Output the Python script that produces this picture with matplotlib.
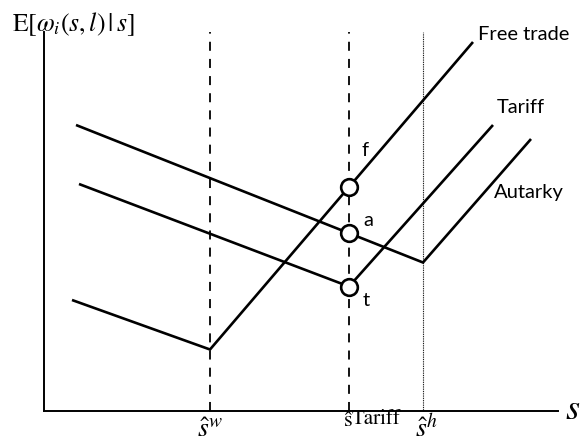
import numpy as np
import matplotlib
matplotlib.use("Agg")
import matplotlib.pyplot as plt

plt.rcParams["mathtext.fontset"] = "stix"

# Thresholds on the s axis
s_w = 166.0
s_tariff = 305.0
s_h = 379.0

# Expected wage schedules: (s, value) kink points
free_s = [28, s_w, 429]
free_v = [111, 61.5, 369]
tariff_s = [35, s_tariff, 449]
tariff_v = [227, 124.5, 286]
autarky_s = [32, s_h, 487]
autarky_v = [286, 148.5, 272]

series_names = ["Free trade", "Tariff", "Autarky"]
point_names = ["f", "a", "t"]

fig = plt.figure(figsize=(5.81, 4.43), dpi=100)
ax = fig.add_axes([0, 0, 1, 1])
ax.set_xlim(-44, 537)
ax.set_ylim(-32, 411)
ax.axis("off")

line_kw = dict(color="black", lw=1.9, solid_capstyle="butt", solid_joinstyle="miter")

# Axes
ax.plot([0, 0], [0, 379], color="black", lw=1.4)
ax.plot([0, 514], [0, 0], color="black", lw=1.4)

# Threshold markers
for sv in (s_w, s_tariff):
    ax.plot([sv, sv], [0, 379], color="black", lw=1.3, dashes=(5, 4.5))
ax.plot([s_h, s_h], [0, 379], color="black", lw=0.8, dashes=(0.8, 0.8))

# Schedules
ax.plot(free_s, free_v, **line_kw)
ax.plot(tariff_s, tariff_v, **line_kw)
ax.plot(autarky_s, autarky_v, **line_kw)

# Values at the tariff threshold
f_val = np.interp(s_tariff, free_s, free_v)
a_val = np.interp(s_tariff, autarky_s, autarky_v)
t_val = np.interp(s_tariff, tariff_s, tariff_v)
ax.plot([s_tariff] * 3, [f_val, a_val, t_val], "o", ms=12, mfc="white",
        mec="black", mew=1.9, zorder=5)

sans = ["Lato", "DejaVu Sans"]
fs = 14.5
ax.text(free_s[-1] + 5, free_v[-1] + 8, series_names[0], fontsize=fs,
        family=sans, ha="left", va="center")
ax.text(tariff_s[-1] + 4, tariff_v[-1] + 18, series_names[1], fontsize=fs,
        family=sans, ha="left", va="center")
ax.text(autarky_s[-1] - 37, autarky_v[-1] - 53, series_names[2], fontsize=fs,
        family=sans, ha="left", va="center")

ax.text(s_tariff + 16, f_val + 36, point_names[0], fontsize=fs, family=sans,
        ha="center", va="center")
ax.text(s_tariff + 19, a_val + 13, point_names[1], fontsize=fs, family=sans,
        ha="center", va="center")
ax.text(s_tariff + 17, t_val - 14, point_names[2], fontsize=fs, family=sans,
        ha="center", va="center")

# Axis titles
ax.text(-32, 387, r"$\mathrm{E}[\omega_i(s,l)\,|\,s]$", fontsize=18.5,
        ha="left", va="center")
ax.text(529, 2, r"$s$", fontsize=26, ha="center", va="center")

# Threshold tick labels
serif = ["STIXGeneral", "DejaVu Serif"]
ax.text(s_w, -18, r"$\hat{s}^{w}$", fontsize=20, ha="center", va="center")
ax.text(s_tariff - 6, -15, "\u015d", fontsize=16, family=serif,
        ha="left", va="baseline")
ax.text(s_tariff + 3, -13, "Tariff", fontsize=15, family=serif,
        ha="left", va="baseline")
ax.text(s_h + 3, -18, r"$\hat{s}^{h}$", fontsize=20, ha="center", va="center")

fig.savefig("out.png", dpi=100)
